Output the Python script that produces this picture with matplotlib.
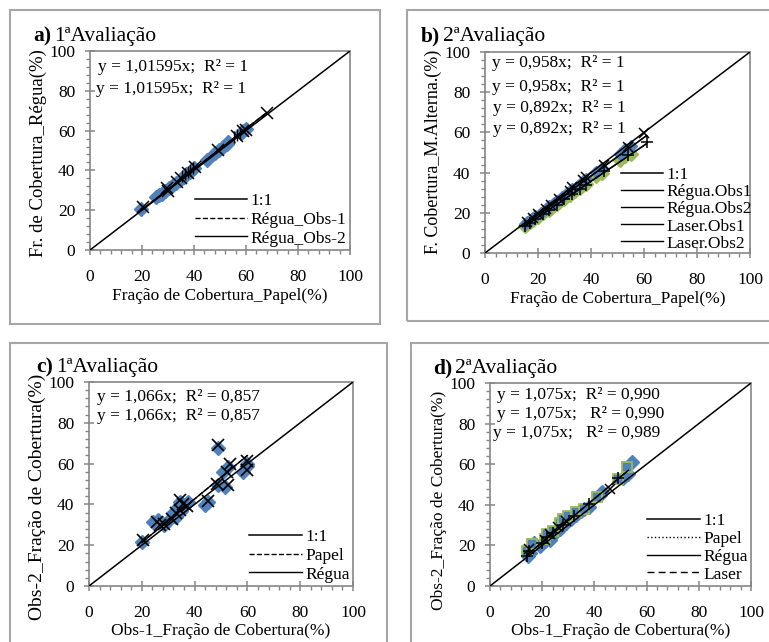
import matplotlib
matplotlib.use("Agg")
import matplotlib.pyplot as plt
from matplotlib.patches import Rectangle
from matplotlib.ticker import MultipleLocator
import numpy as np

plt.rcParams['font.family'] = ['Liberation Serif', 'DejaVu Serif']

BLUE = "#4F81BD"
GREEN = "#9BBB59"
GRAY = "#868686"

# ---- a) 1a Avaliacao: Papel vs Regua ----
a_obs1_x = [19.5, 25.5, 26.5, 27.5, 29, 30.5, 32, 33, 34.5, 36, 37, 38.5, 40, 45, 48, 49.5, 51, 52.5, 53, 58, 59, 60]
a_obs1_y = [20.5, 26.5, 27.5, 28, 29.5, 31, 32.5, 33.5, 35, 36.5, 38, 39, 41, 45, 48.5, 50, 52, 53.5, 54.5, 59, 60, 61]
a_obs2_x = [20.5, 29.5, 30, 33.3, 35, 37.7, 40.4, 49.4, 56.5, 58.9, 60, 68]
a_obs2_y = [21.7, 31, 29.5, 34.3, 36, 38.5, 41.8, 50.2, 57.5, 59.6, 60.3, 69]
a_bar_x = [35.5, 36.5, 37.5, 38.5, 39.5, 55.5, 56.5, 57.5]
a_bar_y = [37, 38, 39, 40, 41, 57, 58, 59]
a_eq = ["y = 1,01595x;  R² = 1", "y = 1,01595x;  R² = 1"]
a_slopes = [1.01595, 1.01595]
a_fit_range = [19, 68]
a_labels = ["1:1", "Régua_Obs-1", "Régua_Obs-2"]

# ---- b) 2a Avaliacao: Papel vs metodos alternativos ----
b_regua1_x = [15, 16, 17, 18, 19, 21, 23, 24, 26, 27, 29, 31, 33, 35, 37, 38, 42, 44, 51, 53, 55]
b_regua1_y = [14.5, 15.5, 16.5, 17.5, 18.5, 20, 22, 23.5, 25, 26, 28, 30, 32, 33.5, 36, 37, 40.5, 42.5, 49.5, 51.5, 53]
b_regua2_x = [15, 16, 17, 18, 20, 22, 24, 25, 27, 28, 30, 32, 34, 36, 38, 42, 44, 51, 53, 55]
b_regua2_y = [13.5, 14.5, 15.5, 16.5, 18, 20, 21.5, 22.5, 24.5, 25.5, 27, 29, 31, 32.5, 34.5, 38.5, 40, 46.5, 48.5, 49.5]
b_laser1_x = [16, 18, 20, 23, 25, 28, 32, 33, 37, 38, 45, 54, 60]
b_laser1_y = [15.5, 17.5, 19.5, 22, 24, 27, 31, 33, 36.5, 38, 44, 52.5, 59.5]
b_laser2_x = [15, 17, 19, 22, 24, 27, 30, 33, 36, 38, 45, 54, 61]
b_laser2_y = [13.5, 15, 17, 19.5, 21.5, 24, 27, 29.5, 32, 34, 41, 49, 55]
b_eq = ["y = 0,958x;  R² = 1", "y = 0,958x;  R² = 1", "y = 0,892x;  R² = 1", "y = 0,892x;  R² = 1"]
b_slopes = [0.958, 0.958, 0.892, 0.892]
b_fit_range = [15, 61]
b_labels = ["1:1", "Régua.Obs1", "Régua.Obs2", "Laser.Obs1", "Laser.Obs2"]

# ---- c) 1a Avaliacao: Obs-1 vs Obs-2 ----
c_papel_x = [20, 24.4, 26, 27.6, 28.5, 29.5, 31.9, 33, 33.8, 34.5, 35, 36.2, 37.5, 44, 45.2, 49, 49, 51.5, 50.9, 52.8, 58.5, 59.7, 60]
c_papel_y = [21.7, 31.4, 32.3, 30.7, 30, 31.5, 35.8, 34, 38.8, 41, 37, 39.5, 41, 39.7, 41, 49.5, 67.6, 48.5, 55.9, 58.2, 56, 60, 59]
c_regua_x = [20.6, 25.7, 27, 28.5, 31.5, 33, 34.5, 34.5, 35.5, 37, 45.2, 48.6, 49, 52.2, 53.4, 52.6, 59.7, 59.7]
c_regua_y = [22.5, 31.5, 30, 30.5, 33, 36, 42, 37.3, 40, 39, 41.6, 50, 69, 56, 59.6, 49.7, 61.4, 57]
c_eq = ["y = 1,066x;  R² = 0,857", "y = 1,066x;  R² = 0,857"]
c_slopes = [1.066, 1.066]
c_fit_range = [20, 60]
c_labels = ["1:1", "Papel", "Régua"]

# ---- d) 2a Avaliacao: Obs-1 vs Obs-2 ----
d_papel_x = [14.5, 15.5, 17, 19, 21, 22, 23, 24, 25, 27, 28, 29, 31, 33, 35, 36, 38, 42, 43, 51, 53, 54.5]
d_papel_y = [15, 16.5, 21, 19.5, 22, 24, 22.5, 25, 26.5, 28, 30, 31, 33, 35, 37, 38, 39, 45, 46.5, 53, 55, 61]
d_regua_x = [14, 16, 21, 22, 24, 27, 28, 30, 33, 36, 41, 49, 52.5]
d_regua_y = [17, 20.5, 23, 25.5, 27, 31, 33, 34.5, 36.5, 38, 44, 52.5, 58.5]
d_laser_x = [14, 15, 20, 22, 24, 28, 32, 38, 49]
d_laser_y = [15, 17, 21, 24, 26, 30, 34.5, 40.5, 53]
d_x_x = [15, 21, 23, 26, 29, 46]
d_x_y = [18, 22.5, 25.5, 29, 32, 48]
d_eq = ["y = 1,075x;  R² = 0,990", "y = 1,075x;   R² = 0,990", "y = 1,075x;   R² = 0,989"]
d_slopes = [1.075, 1.075, 1.075]
d_fit_range = [14, 53]
d_labels = ["1:1", "Papel", "Régua", "Laser"]

W, H = 769, 642
fig = plt.figure(figsize=(W / 100, H / 100), dpi=100)

TICK_FS = 12.5
LABEL_FS = 12.5
EQ_FS = 12.5
LEG_FS = 12.5
TITLE_FS = 15.5


def fx(px):
    return px / W


def fy(py):
    return 1 - py / H


# panel frames
for x0, y0, x1, y1 in [(10, 10, 380, 324), (407, 10, 780, 321), (10, 343, 387, 650), (411, 343, 780, 650)]:
    fig.patches.append(Rectangle((fx(x0), fy(y1)), fx(x1 - x0), (y1 - y0) / H, transform=fig.transFigure,
                                 fill=False, edgecolor="#a6a6a6", lw=1.5))


def make_axes(l, r, t, b):
    ax = fig.add_axes([fx(l), fy(b), fx(r - l), (b - t) / H])
    ax.set_xlim(0, 100)
    ax.set_ylim(0, 100)
    ax.xaxis.set_major_locator(MultipleLocator(20))
    ax.yaxis.set_major_locator(MultipleLocator(20))
    ax.xaxis.set_minor_locator(MultipleLocator(4))
    ax.yaxis.set_minor_locator(MultipleLocator(4))
    for s in ax.spines.values():
        s.set_color(GRAY)
        s.set_linewidth(1.2)
    ax.tick_params(which="major", direction="inout", length=7, width=1.1, color=GRAY,
                   labelsize=TICK_FS, labelcolor="black")
    ax.tick_params(axis="y", which="major", pad=7)
    ax.tick_params(axis="x", which="major", pad=10.5)
    ax.tick_params(which="minor", direction="out", length=3, width=1, color=GRAY)
    ax.plot([0, 100], [0, 100], color="black", lw=1.1, label="1:1", zorder=4)
    return ax


def title(px, py, letter, rest):
    t = fig.text(fx(px), fy(py), letter, fontsize=TITLE_FS, fontweight="bold", va="baseline")
    fig.canvas.draw()
    bb = t.get_window_extent()
    fig.text(bb.x1 / W + 0.004, fy(py), rest, fontsize=TITLE_FS, va="baseline")


def fit_lines(ax, slopes, rng, styles, labels):
    xs = np.array(rng, dtype=float)
    for k, s in enumerate(slopes):
        ax.plot(xs, s * xs, color="black", lw=1, ls=styles[k], label=labels[k + 1], zorder=5)


def equations(ax, eqs, x, ys):
    for k, e in enumerate(eqs):
        ax.text(x[k], ys[k], e, fontsize=EQ_FS, va="center", ha="left")


def legend(ax, anchor, loc="lower right", hl=3.0, spacing=0.15):
    ax.legend(loc=loc, bbox_to_anchor=anchor, frameon=False, fontsize=LEG_FS,
              handlelength=hl, handletextpad=0.2, labelspacing=spacing, borderpad=0.1, borderaxespad=0.1)


def ylabel(ax, text, size, ypos, pad):
    ax.set_ylabel(text, fontsize=size, labelpad=pad)
    ax.yaxis.label.set_y(ypos)


# a)
ax = make_axes(90, 350, 51, 250)
ax.plot(a_obs1_x, a_obs1_y, ls="", marker="D", ms=7, color=BLUE, mec=BLUE, zorder=2)
ax.plot(a_obs2_x, a_obs2_y, ls="", marker="x", ms=8, mew=1.1, color="black", zorder=6)
ax.plot(a_bar_x, a_bar_y, ls="", marker="|", ms=8, mew=1, color="black", zorder=6)
fit_lines(ax, a_slopes, a_fit_range, ["--", "-"], a_labels)
equations(ax, a_eq, [3, 2.5], [92, 81])
ax.set_xlabel("Fração de Cobertura_Papel(%)", fontsize=LABEL_FS, labelpad=2)
ylabel(ax, "Fr. de Cobertura_Régua(%)", 13.5, 0.487, 1.5)
legend(ax, (1.0, 0.0))
title(33, 41, "a)", "1ªAvaliação")

# b)
ax = make_axes(485, 750, 52, 253)
ax.plot(b_regua2_x, b_regua2_y, ls="", marker="D", ms=7, color=GREEN, mec=GREEN, zorder=2)
ax.plot(b_regua1_x, b_regua1_y, ls="", marker="D", ms=6, color=BLUE, mec=BLUE, zorder=3)
ax.plot(b_laser1_x, b_laser1_y, ls="", marker="x", ms=7, mew=1.1, color="black", zorder=6)
ax.plot(b_laser2_x, b_laser2_y, ls="", marker="+", ms=8, mew=1.1, color="black", zorder=6)
fit_lines(ax, b_slopes, b_fit_range, ["-", "-", "-", "-"], b_labels)
equations(ax, b_eq, [2.5, 2.5, 3.2, 3.2], [94.5, 82.6, 72, 61.5])
ax.set_xlabel("Fração de Cobertura_Papel(%)", fontsize=LABEL_FS, labelpad=2)
ylabel(ax, "F. Cobertura_M.Alterna.(%)", 13, 0.505, 2)
legend(ax, (0.5, -0.01), loc="lower left", hl=2.4, spacing=0.05)
title(421, 41, "b)", "2ªAvaliação")

# c)
ax = make_axes(89, 353, 382, 586)
ax.plot(c_papel_x, c_papel_y, ls="", marker="D", ms=7.5, color=BLUE, mec=BLUE, zorder=2)
ax.plot(c_regua_x, c_regua_y, ls="", marker="x", ms=9, mew=1.2, color="black", zorder=6)
fit_lines(ax, c_slopes, c_fit_range, ["--", "-"], c_labels)
equations(ax, c_eq, [3, 3], [92.6, 83.3])
ax.set_xlabel("Obs-1_Fração de Cobertura(%)", fontsize=LABEL_FS, labelpad=1)
ylabel(ax, "Obs-2_Fração de Cobertura(%)", 14, 0.436, 1.5)
legend(ax, (1.0, 0.0))
title(36, 372, "c)", "1ªAvaliação")

# d)
ax = make_axes(490, 751, 383, 586)
ax.plot(d_papel_x, d_papel_y, ls="", marker="D", ms=7.5, color=BLUE, mec=BLUE, zorder=2)
ax.plot(d_regua_x, d_regua_y, ls="", marker="s", ms=6.5, color=BLUE, mec=GREEN, mew=1.3, zorder=3)
ax.plot(d_laser_x, d_laser_y, ls="", marker="+", ms=9, mew=1.1, color="black", zorder=6)
ax.plot(d_x_x, d_x_y, ls="", marker="x", ms=7, mew=1.1, color="black", zorder=6)
fit_lines(ax, d_slopes, d_fit_range, [":", "-", (0, (5, 3))], d_labels)
equations(ax, d_eq, [2.7, 2.7, 1.2], [94, 84.7, 75.4])
ax.set_xlabel("Obs-1_Fração de Cobertura(%)", fontsize=LABEL_FS, labelpad=1)
ylabel(ax, "Obs-2_Fração de Cobertura(%)", 12.5, 0.424, 2)
legend(ax, (1.0, 0.0), spacing=0.1)
title(433, 373, "d)", "2ªAvaliação")

fig.savefig("out.png", dpi=100)
